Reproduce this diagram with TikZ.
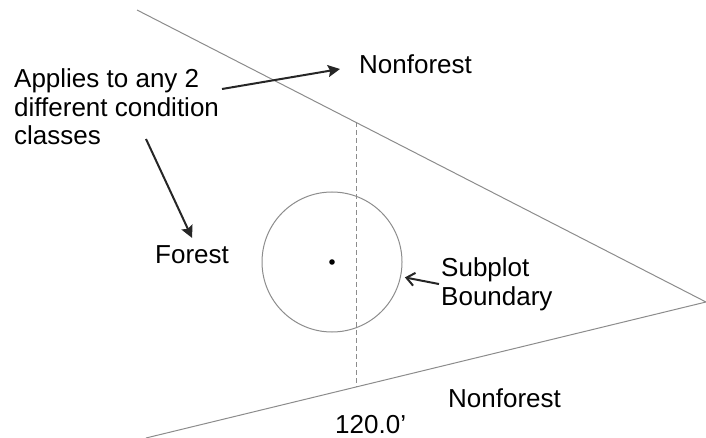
\documentclass[tikz,border=0pt]{standalone}
\usepackage{fontspec}
\setmainfont{Liberation Sans}
\usetikzlibrary{arrows.meta}

\begin{document}
\begin{tikzpicture}[x=1pt, y=-1pt,
        borde/.style={draw=black!45, line width=1pt},
        flecha/.style={draw=black!85, line width=2pt, -{Stealth[length=12pt, width=12pt, inset=2pt]}},
        texto/.style={inner sep=0pt, anchor=base west, font=\fontsize{26}{28.5}\selectfont}]
            \useasboundingbox (0,0) rectangle (706,438);

            % Bordes de la condicion (triangulo abierto)
            \coordinate (a) at (137,10);
            \coordinate (b) at (706,302);
            \coordinate (c) at (146,438);
            \draw[borde] (a) -- (b) -- (c);

            % Linea discontinua de 120.0'
            \coordinate (d1) at (356,122.4);
            \coordinate (d2) at (356,387);
            \draw[borde, dash pattern=on 5pt off 3pt] (d1) -- (d2);

            % Subparcela con su centro
            \node[borde, circle, minimum size=140pt, inner sep=0pt] (sub) at (332,262) {};
            \fill (sub.center) circle (2.8pt);

            % Textos (base = ultima linea)
            \node[texto, align=left] (nota) at (14,145) {Applies to any 2\\different condition\\classes};
            \node[texto] (nf1) at (359,74) {Nonforest};
            \node[texto] (bosque) at (155,263) {Forest};
            \node[texto, align=left] (lim) at (441,305) {Subplot\\Boundary};
            \node[texto] (nf2) at (448,407) {Nonforest};
            \node[texto] (dist) at (335,433) {120.0'};

            % Flechas
            \coordinate (p1) at (222,89);
            \coordinate (p2) at (146,139);
            \draw[flecha] (p1) -- ([xshift=-19pt, yshift=5pt]nf1.base west);
            \draw[flecha] (p2) -- ([yshift=7pt]bosque.north);
            \draw[draw=black!85, line width=2pt, -{Straight Barb[length=8pt, width=13pt]}, shorten >=4pt]
                ([xshift=-2pt]lim.west) -- (sub.-12);
        \end{tikzpicture}
\end{document}
